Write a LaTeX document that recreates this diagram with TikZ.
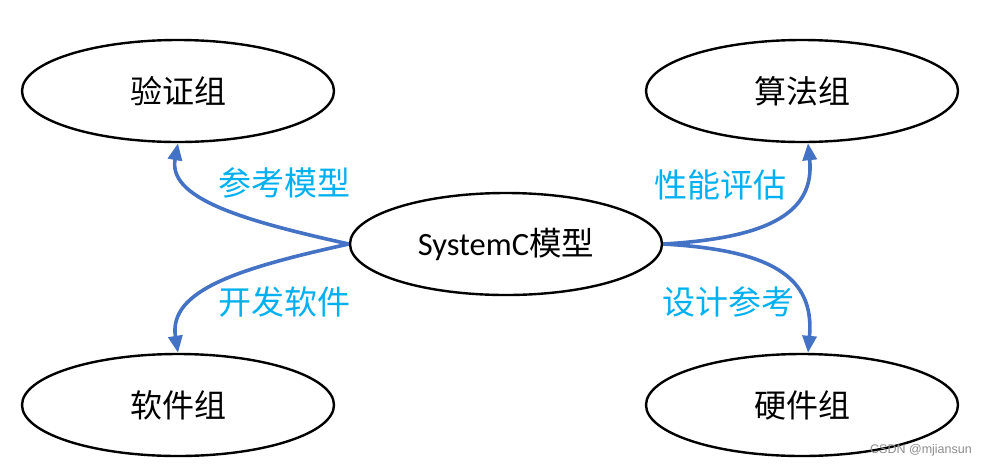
\documentclass[tikz,border=0pt]{standalone}
\usepackage{fontspec}
\setmainfont{Noto Sans CJK SC}
\newfontfamily\latfont{Carlito}
\newfontfamily\wmfont{Liberation Sans}
\usetikzlibrary{shapes.geometric,arrows.meta}
\definecolor{arrblue}{HTML}{4472C4}
\definecolor{lblblue}{HTML}{00B0F0}
\begin{document}
\begin{tikzpicture}[x=1pt,y=-1pt,
  grp/.style={ellipse,draw=black,line width=2.4pt,minimum width=312pt,minimum height=102pt,inner sep=0pt,font=\fontsize{32}{38}\selectfont},
  arr/.style={draw=arrblue,line width=3.6pt,-{Triangle[length=17pt,width=14pt]}},
  lbl/.style={text=lblblue,font=\fontsize{33}{38}\selectfont,inner sep=0pt}]
\useasboundingbox (0,0) rectangle (988,467);
\node[grp] (ver) at (178,91) {验证组};
\node[grp] (alg) at (802,91) {算法组};
\node[grp] (sw) at (178,405) {软件组};
\node[grp] (hw) at (802,405) {硬件组};
\node[grp,font=\fontsize{32.5}{38}\selectfont] (sys) at (506,244) {{\latfont SystemC}模型};
\draw[arr] (sys.west) .. controls (240,220) and (168,198) .. (ver.south);
\draw[arr] (sys.west) .. controls (240,268) and (168,290) .. (sw.north);
\draw[arr] (sys.east) .. controls (770,238) and (815,212) .. ([xshift=6pt]alg.south);
\draw[arr] (sys.east) .. controls (770,250) and (815,276) .. ([xshift=6pt]hw.north);
\node[lbl] (l1) at (284,183) {参考模型};
\node[lbl] (l2) at (284,302) {开发软件};
\node[lbl] (l3) at (720,185) {性能评估};
\node[lbl] (l4) at (728,302) {设计参考};
\node[text=black!45,font=\wmfont\fontsize{12.5}{14}\selectfont,inner sep=0pt] (wm) at (921,450) {CSDN @mjiansun};
\end{tikzpicture}
\end{document}
